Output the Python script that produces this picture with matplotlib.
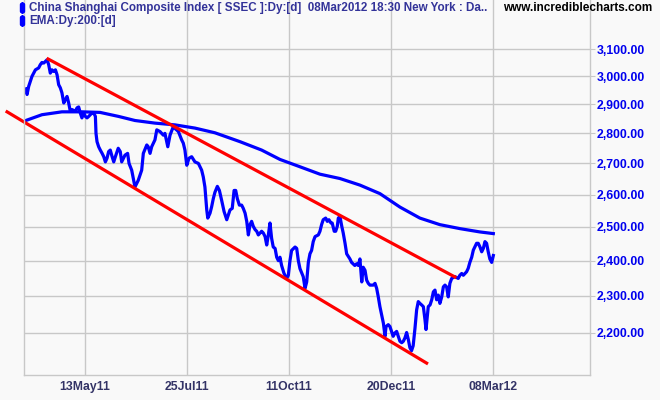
import matplotlib
matplotlib.use("Agg")
import matplotlib.pyplot as plt
from matplotlib.patches import FancyBboxPatch
from matplotlib.ticker import NullLocator

# SSEC daily close, x = trading-day index (0 ~ early Apr 2011)
bars = [
    0, 0.6, 1.4, 3.0, 4.7, 6.3, 7.1, 7.9, 8.8, 9.6,
    10.4, 11.2, 12.0, 12.8, 13.7, 14.5, 15.3, 16.1, 16.9, 17.7,
    18.6, 19.4, 20.2, 21.0, 21.8, 22.6, 24.3, 25.1, 25.9, 26.7,
    27.5, 28.4, 29.2, 30.0, 30.8, 31.6, 32.5, 33.3, 34.1, 34.4,
    34.9, 35.7, 36.5, 37.4, 38.2, 39.0, 39.8, 40.6, 41.4, 42.3,
    43.1, 43.9, 45.3, 46.3, 47.0, 48.6, 49.9, 50.6, 51.9, 53.5,
    55.1, 56.8, 57.6, 59.3, 60.0, 60.9, 61.7, 63.3, 64.2, 65.8,
    67.4, 68.2, 69.6, 70.7, 72.3, 73.1, 74.8, 76.4, 77.2, 78.0,
    78.9, 80.0, 81.3, 82.9, 84.6, 86.2, 87.0, 87.8, 88.7, 89.2,
    90.3, 91.1, 91.9, 92.7, 93.9, 94.9, 96.0, 97.2, 98.5, 99.3,
    100.1, 101.2, 102.1, 102.9, 103.7, 104.7, 105.8, 106.6, 107.5, 108.3,
    109.1, 109.9, 110.7, 111.5, 112.4, 113.2, 114.0, 115.6, 116.4, 117.3,
    118.1, 118.9, 119.7, 120.5, 121.3, 122.2, 123.0, 123.8, 124.6, 125.4,
    126.6, 127.9, 128.7, 129.5, 130.3, 132.0, 132.8, 133.6, 134.4, 136.0,
    136.9, 137.7, 138.5, 139.3, 140.1, 140.9, 141.8, 143.4, 144.2, 145.0,
    145.8, 147.0, 147.8, 148.6, 149.6, 150.2, 151.2, 151.9, 152.7, 153.2,
    154.0, 154.9, 155.6, 156.5, 157.3, 158.9, 159.7, 161.3, 162.2, 163.0,
    163.8, 164.7, 165.4, 166.3, 167.1, 167.9, 168.7, 170.3, 171.2, 172.0,
    172.8, 173.6, 174.4, 175.3, 176.1, 176.6, 177.7, 178.5, 179.3, 180.1,
    181.0, 181.8, 182.6, 183.4, 184.3, 185.1, 185.9, 186.7, 187.5, 188.3,
    189.1, 189.9, 190.8, 191.6, 192.4, 193.2, 194.0, 194.9, 195.7, 196.2,
    196.8, 197.3, 198.2, 199.0, 199.8, 200.6, 201.4, 202.2, 203.0, 203.9,
    204.7, 205.5, 206.3, 207.1, 207.9, 208.8, 210.4, 212.0, 212.8, 213.7,
    214.5, 215.3, 216.1, 216.9, 217.7, 218.6, 219.4, 220.2, 221.0, 221.8,
    222.6, 223.5, 224.3, 225.1, 225.9, 226.7, 227.5, 228.4, 229.2,
]
close = [
    2955, 2935, 2964, 3000, 3024, 3031, 3043, 3051, 3049, 3055,
    3061, 3043, 3012, 3024, 3018, 3024, 3006, 2970, 2959, 2941,
    2905, 2917, 2928, 2905, 2876, 2882, 2876, 2888, 2891, 2870,
    2853, 2870, 2858, 2853, 2858, 2864, 2870, 2870, 2858, 2800,
    2772, 2755, 2744, 2733, 2722, 2705, 2717, 2739, 2744, 2722,
    2705, 2722, 2750, 2739, 2705, 2727, 2733, 2700, 2678, 2624,
    2645, 2678, 2733, 2761, 2755, 2733, 2755, 2778, 2812, 2806,
    2794, 2800, 2755, 2794, 2823, 2817, 2806, 2778, 2767, 2744,
    2694, 2717, 2722, 2705, 2700, 2678, 2656, 2624, 2552, 2527,
    2542, 2562, 2587, 2607, 2626, 2613, 2582, 2547, 2522, 2537,
    2552, 2557, 2613, 2613, 2587, 2567, 2567, 2557, 2542, 2517,
    2476, 2507, 2517, 2502, 2492, 2487, 2476, 2487, 2482, 2471,
    2446, 2476, 2512, 2466, 2440, 2436, 2410, 2400, 2410, 2386,
    2363, 2349, 2358, 2400, 2430, 2440, 2436, 2400, 2377, 2354,
    2321, 2339, 2395, 2420, 2430, 2456, 2471, 2476, 2487, 2507,
    2522, 2527, 2517, 2522, 2512, 2512, 2487, 2487, 2502, 2527,
    2532, 2502, 2482, 2451, 2420, 2405, 2395, 2386, 2391, 2386,
    2405, 2339, 2381, 2372, 2344, 2335, 2330, 2330, 2335, 2321,
    2297, 2270, 2248, 2225, 2190, 2216, 2221, 2216, 2203, 2190,
    2199, 2203, 2190, 2177, 2173, 2177, 2186, 2200, 2182, 2160,
    2152, 2165, 2212, 2261, 2284, 2279, 2275, 2270, 2234, 2208,
    2243, 2270, 2275, 2289, 2311, 2316, 2289, 2302, 2279, 2297,
    2325, 2330, 2325, 2297, 2335, 2349, 2354, 2349, 2358, 2363,
    2358, 2363, 2368, 2378, 2395, 2410, 2431, 2441, 2451, 2451,
    2441, 2426, 2436, 2456, 2451, 2426, 2405, 2395, 2415,
]

# 200-day EMA
ema_bars = [0, 7.9, 17.7, 27.5, 36.4, 45.5, 53.5, 63.3, 73.1, 82.9, 92.7, 105.0, 115.6,
            124.6, 134.4, 144.2, 154.0, 163.8, 173.6, 183.4, 193.2, 203.0, 212.8, 222.6, 229.2]
ema = [2844, 2864, 2874, 2874, 2872, 2858, 2844, 2835, 2829, 2818, 2802, 2772, 2744,
       2713, 2689, 2665, 2651, 2630, 2603, 2561, 2527, 2507, 2495, 2485, 2480]

# trend channel end points
upper_bars = [10.9, 210.4]
upper = [3064, 2353]
lower_bars = [-9.2, 196.5]
lower = [2874, 2120]

tick_bars = [29, 79, 129, 179, 229]
tick_labels = ["13May11", "25Jul11", "11Oct11", "20Dec11", "08Mar12"]
price_levels = [2200, 2300, 2400, 2500, 2600, 2700, 2800, 2900, 3000, 3100]

plt.rcParams["font.family"] = ["Liberation Sans", "DejaVu Sans"]
bg = "#F9F9F9"
grid_col = "#C8C8C8"

W, H = 660, 400
fig = plt.figure(figsize=(W / 100, H / 100), dpi=100, facecolor=bg)
ax = fig.add_axes([24 / W, 25 / H, 566 / W, 375 / H])
ax.set_facecolor(bg)

ax.plot(bars, close, color="#0000FF", lw=2.3, solid_joinstyle="round")
ax.plot(ema_bars, ema, color="#0000FF", lw=2.3)
ax.plot(upper_bars, upper, color="#FF0000", lw=2.3, clip_on=False)
ax.plot(lower_bars, lower, color="#FF0000", lw=2.3, clip_on=False)

ax.set_yscale("log")
ax.set_ylim(2089.7, 3290.8)
ax.set_xlim(-0.9, 276.6)
ax.yaxis.tick_right()
ax.set_yticks(price_levels, [f"{v:,.2f}" for v in price_levels])
ax.yaxis.set_minor_locator(NullLocator())
ax.set_xticks(tick_bars, tick_labels)

ax.grid(True, color=grid_col, lw=1)
ax.set_axisbelow(True)
ax.spines["top"].set_visible(False)
for s in ("left", "right", "bottom"):
    ax.spines[s].set_color(grid_col)
    ax.spines[s].set_linewidth(1)

ax.tick_params(axis="y", direction="out", length=3.6, color=grid_col, pad=1,
               labelcolor="#0000EE", labelsize=8.8)
ax.tick_params(axis="x", length=0, pad=4, labelcolor="#333366", labelsize=8.8)
for lab in ax.get_xticklabels() + ax.get_yticklabels():
    lab.set_fontweight("bold")

# legend header
for yc, txt in [(8, "China Shanghai Composite Index [ SSEC ]:Dy:[d]  08Mar2012 18:30 New York : Da.."),
                (21, "EMA:Dy:200:[d]")]:
    fig.add_artist(FancyBboxPatch((20.5 / W, 1 - (yc + 5) / H), 4 / W, 10 / H,
                                  boxstyle="round,pad=0,rounding_size=0.004",
                                  transform=fig.transFigure, color="#0000FF"))
    fig.text(29 / W, 1 - yc / H, txt, color="#333399", fontsize=8.4, fontweight="bold",
             va="center", ha="left")

fig.text(503 / W, 1 - 8 / H, "www.incrediblecharts.com", color="black", fontsize=8.5,
         fontweight="bold", va="center", ha="left")

fig.savefig("out.png", dpi=100, facecolor=bg)
